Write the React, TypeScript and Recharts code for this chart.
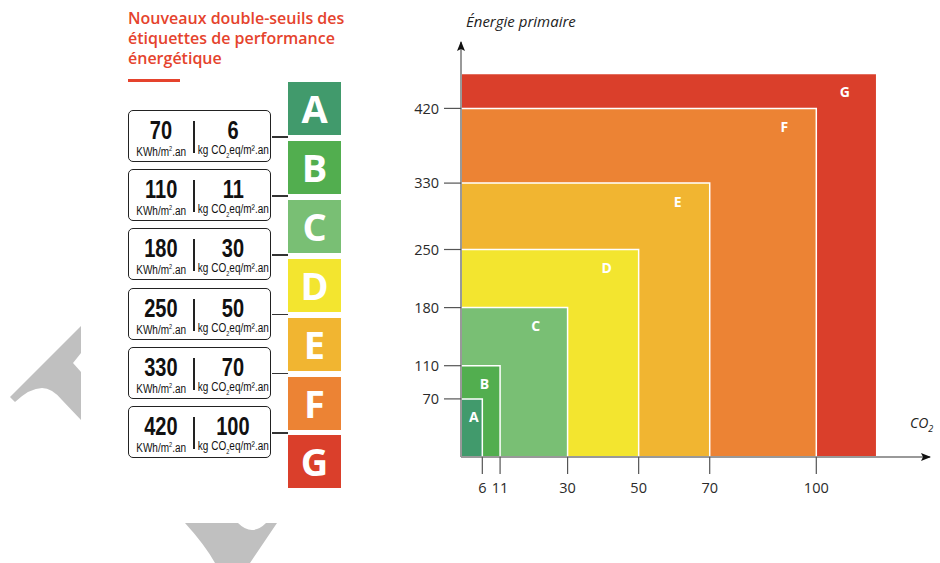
import React from "react";
import {
  ComposedChart,
  XAxis,
  YAxis,
  Scatter,
  ReferenceArea,
  ReferenceDot,
  Label,
} from "recharts";

// classes DPE et seuils (énergie primaire kWh/m².an, CO2 kg/m².an)
const classes = ["A", "B", "C", "D", "E", "F", "G"];
const classColors = [
  "#419a6c",
  "#52ae4f",
  "#79bf74",
  "#f3e52f",
  "#f1b531",
  "#ec8334",
  "#da3f2b",
];
const energyLimits = [70, 110, 180, 250, 330, 420, 462];
const co2Limits = [6, 11, 30, 50, 70, 100, 117];
const energyTicks = [70, 110, 180, 250, 330, 420];
const co2Ticks = [6, 11, 30, 50, 70, 100];

const title = ["Nouveaux double-seuils des", "étiquettes de performance", "énergétique"];

const SANS = "'Open Sans', 'Noto Sans', sans-serif";
const NARROW = "'Liberation Sans', Arial, sans-serif";

const corners = classes.map((c, i) => ({ c, co2: co2Limits[i], energy: energyLimits[i] }));

function ClassLetter(props: any) {
  const { viewBox, value } = props;
  if (!viewBox) return null;
  const { x, y, width } = viewBox;
  const cx = x + width - Math.min(32, width * 0.4);
  return (
    <text
      x={cx}
      y={y + 18}
      textAnchor="middle"
      dominantBaseline="central"
      fill="#fff"
      fontFamily={SANS}
      fontWeight={700}
      fontSize={14}
    >
      {value}
    </text>
  );
}

function ArrowRight(props: any) {
  const { cx, cy } = props;
  return <path d={`M${cx - 9},${cy - 4} L${cx + 1},${cy} L${cx - 9},${cy + 4} L${cx - 7},${cy} Z`} fill="#111" />;
}

function ArrowUp(props: any) {
  const { cx, cy } = props;
  return <path d={`M${cx - 4},${cy + 9} L${cx},${cy - 1} L${cx + 4},${cy + 9} L${cx},${cy + 7} Z`} fill="#111" />;
}

function Narrow({ children, size, bold }: { children: React.ReactNode; size: number; bold?: boolean }) {
  return (
    <span
      style={{
        display: "inline-block",
        transform: "scaleX(0.8)",
        fontSize: size,
        fontWeight: bold ? 700 : 400,
        whiteSpace: "nowrap",
      }}
    >
      {children}
    </span>
  );
}

function ThresholdTable() {
  return (
    <>
      <div
        style={{
          position: "absolute",
          left: 128,
          top: 8,
          fontFamily: SANS,
          fontSize: 16,
          lineHeight: "20px",
          fontWeight: 600,
          color: "#e5432d",
          whiteSpace: "nowrap",
        }}
      >
        {title.map((t) => (
          <div key={t}>{t}</div>
        ))}
      </div>
      <div style={{ position: "absolute", left: 128, top: 79, width: 52, height: 3, background: "#e5432d" }} />

      {energyTicks.map((e, i) => {
        const top = 110 + i * 59.2;
        return (
          <React.Fragment key={e}>
            <div
              style={{
                position: "absolute",
                left: 128,
                top,
                width: 141,
                height: 50,
                border: "1.5px solid #222",
                borderRadius: 5,
                fontFamily: NARROW,
                color: "#111",
              }}
            >
              <div style={{ position: "absolute", left: 0, width: 64, top: 6, textAlign: "center", lineHeight: "26px" }}>
                <Narrow size={25} bold>{e}</Narrow>
              </div>
              <div style={{ position: "absolute", left: -4, width: 72, top: 31, textAlign: "center", lineHeight: "13px" }}>
                <Narrow size={12.5}>
                  KWh/m<sup style={{ fontSize: 7 }}>2</sup>.an
                </Narrow>
              </div>
              <div style={{ position: "absolute", left: 64, top: 10, width: 1.5, height: 32, background: "#222" }} />
              <div style={{ position: "absolute", left: 66, width: 76, top: 6, textAlign: "center", lineHeight: "26px" }}>
                <Narrow size={25} bold>{co2Ticks[i]}</Narrow>
              </div>
              <div style={{ position: "absolute", left: 60, width: 88, top: 31, textAlign: "center", lineHeight: "13px" }}>
                <Narrow size={12.5}>
                  kg CO<sub style={{ fontSize: 7 }}>2</sub>eq/m².an
                </Narrow>
              </div>
            </div>
            <div style={{ position: "absolute", left: 272, top: top + 26, width: 16, height: 1.5, background: "#333" }} />
          </React.Fragment>
        );
      })}

      {classes.map((c, i) => (
        <div
          key={c}
          style={{
            position: "absolute",
            left: 288,
            top: 82 + i * 58.9,
            width: 53,
            height: 53,
            background: classColors[i],
            color: "#fff",
            fontFamily: SANS,
            fontWeight: 700,
            fontSize: 38,
            lineHeight: "53px",
            textAlign: "center",
          }}
        >
          {c}
        </div>
      ))}
    </>
  );
}

export default function App() {
  const areas = classes.map((c, i) => ({ c, i })).reverse();
  const tickStyle = { fill: "#2a2a2a", fontSize: 14.5, fontFamily: SANS };
  return (
    <div
      style={{
        position: "fixed",
        left: 0,
        top: 0,
        width: 940,
        height: 563,
        overflow: "hidden",
        background: "#fff",
      }}
    >
      <svg width={940} height={563} style={{ position: "absolute", left: 0, top: 0 }}>
        <path d="M81,326 L10,397 L15,402 Q30,388 42,388 Q52,388 62,400 L81,420 L81,372 L73,363 L81,353 Z" fill="#c0c0c0" />
        <path d="M185,523 L238,523 Q252,537 266,523 L277,523 L250,563 L215,563 Q205,545 185,523 Z" fill="#c0c0c0" />
      </svg>

      <ThresholdTable />

      <div
        style={{
          position: "absolute",
          left: 466,
          top: 11,
          fontFamily: SANS,
          fontStyle: "italic",
          fontSize: 15,
          color: "#222",
        }}
      >
        Énergie primaire
      </div>
      <div
        style={{
          position: "absolute",
          left: 910,
          top: 413,
          fontFamily: SANS,
          fontStyle: "italic",
          fontSize: 14,
          color: "#222",
          whiteSpace: "nowrap",
        }}
      >
        CO<sub style={{ fontSize: 9 }}>2</sub>
      </div>

      <div style={{ position: "absolute", left: 380, top: 0 }}>
        <ComposedChart
          width={560}
          height={563}
          data={corners}
          margin={{ top: 42, right: 10, bottom: 66, left: 0 }}
        >
          <XAxis
            type="number"
            dataKey="co2"
            domain={[0, 132]}
            allowDataOverflow
            ticks={co2Ticks}
            interval={0}
            height={40}
            tickSize={17}
            tickMargin={9}
            axisLine={{ stroke: "#999", strokeWidth: 2 }}
            tickLine={{ stroke: "#555", strokeWidth: 1.2 }}
            tick={tickStyle}
          />
          <YAxis
            type="number"
            dataKey="energy"
            domain={[0, 500]}
            allowDataOverflow
            ticks={energyTicks}
            interval={0}
            width={81}
            tickSize={17}
            tickMargin={5}
            axisLine={{ stroke: "#999", strokeWidth: 2 }}
            tickLine={{ stroke: "#555", strokeWidth: 1.2 }}
            tick={tickStyle}
          />
          {areas.map(({ c, i }) => (
            <ReferenceArea
              key={c}
              x1={0}
              x2={co2Limits[i]}
              y1={0}
              y2={energyLimits[i]}
              fill={classColors[i]}
              fillOpacity={1}
              stroke="#fff"
              strokeWidth={1.5}
              ifOverflow="visible"
            >
              <Label value={c} content={<ClassLetter />} />
            </ReferenceArea>
          ))}
          <Scatter dataKey="energy" fill="none" shape={() => <g />} isAnimationActive={false} />
          <ReferenceDot x={132} y={0} ifOverflow="visible" shape={<ArrowRight />} />
          <ReferenceDot x={0} y={500} ifOverflow="visible" shape={<ArrowUp />} />
        </ComposedChart>
      </div>
    </div>
  );
}
